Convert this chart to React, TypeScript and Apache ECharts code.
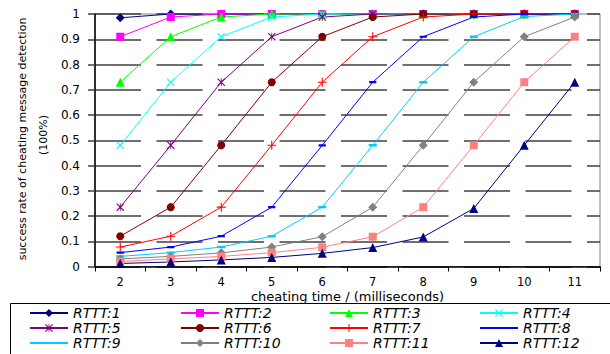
import React, { useEffect, useRef } from "react";
import * as echarts from "echarts";

const categories = ["2", "3", "4", "5", "6", "7", "8", "9", "10", "11"];
const seriesNames = [
  "RTTT:1", "RTTT:2", "RTTT:3", "RTTT:4",
  "RTTT:5", "RTTT:6", "RTTT:7", "RTTT:8",
  "RTTT:9", "RTTT:10", "RTTT:11", "RTTT:12",
];
const xAxisTitle = "cheating time / (milliseconds)";
const yAxisTitle = "success rate of cheating message detection";
const yAxisUnit = "(100%)";
const rttt1 = [0.985, 1, 1, 1, 1, 1, 1, 1, 1, 1];
const rttt2 = [0.91, 0.988, 1, 1, 1, 1, 1, 1, 1, 1];
const rttt3 = [0.73, 0.91, 0.988, 1, 1, 1, 1, 1, 1, 1];
const rttt4 = [0.48, 0.73, 0.91, 0.988, 1, 1, 1, 1, 1, 1];
const rttt5 = [0.235, 0.48, 0.73, 0.91, 0.988, 1, 1, 1, 1, 1];
const rttt6 = [0.12, 0.235, 0.48, 0.73, 0.91, 0.988, 1, 1, 1, 1];
const rttt7 = [0.077, 0.12, 0.235, 0.48, 0.73, 0.91, 0.988, 1, 1, 1];
const rttt8 = [0.055, 0.077, 0.12, 0.235, 0.48, 0.73, 0.91, 0.988, 1, 1];
const rttt9 = [0.04, 0.055, 0.077, 0.12, 0.235, 0.48, 0.73, 0.91, 0.99, 1];
const rttt10 = [0.03, 0.04, 0.054, 0.077, 0.118, 0.235, 0.48, 0.73, 0.91, 0.988];
const rttt11 = [0.02, 0.03, 0.04, 0.055, 0.076, 0.118, 0.235, 0.48, 0.73, 0.91];
const rttt12 = [0.012, 0.018, 0.026, 0.036, 0.052, 0.075, 0.117, 0.23, 0.48, 0.73];
const allData = [rttt1, rttt2, rttt3, rttt4, rttt5, rttt6, rttt7, rttt8, rttt9, rttt10, rttt11, rttt12];

const colors = [
  "#000080", "#FF00FF", "#00FF00", "#00FFFF",
  "#800080", "#800000", "#FF0000", "#0000FF",
  "#00CCFF", "#808080", "#FF8080", "#000080",
];
const CROSS = "path://M0,1L1,0L10,9L9,10Z M9,0L10,1L1,10L0,9Z";
const ASTER = "path://M0,1L1,0L10,9L9,10Z M9,0L10,1L1,10L0,9Z M4.5,0h1v10h-1Z";
const PLUS = "path://M4.4,0h1.2v10h-1.2Z M0,4.4h10v1.2h-10Z";
const DASH = "path://M0,0L0,0L0,0Z M10,10L10,10L10,10Z M1,3.8h8v2.4h-8Z";
const symbols = [
  "diamond", "rect", "triangle", CROSS,
  ASTER, "circle", PLUS, DASH,
  DASH, "diamond", "rect", "triangle",
];
const symbolSizes = [9, 8, 9, 8, 8, 8, 9, 9, 10, 9, 8, 9];

export default function App() {
  const ref = useRef<HTMLDivElement>(null);
  useEffect(() => {
    if (!ref.current) return;
    const chart = echarts.init(ref.current, null, { renderer: "svg" });
    const font = "DejaVu Sans";
    const legendLefts = [29, 180, 329, 479];
    chart.setOption({
      animation: false,
      backgroundColor: "#ffffff",
      grid: {
        left: 95, right: 10, top: 14, bottom: 87.5,
        show: true, borderColor: "#808080", borderWidth: 1,
      },
      xAxis: {
        type: "category",
        data: categories,
        boundaryGap: true,
        axisLine: { lineStyle: { color: "#000", width: 1.5 } },
        axisTick: { show: true, length: 5, lineStyle: { color: "#000" } },
        axisLabel: { margin: 9, fontFamily: font, fontSize: 11.5, lineHeight: 12, color: "#000" },
        splitLine: { show: false },
      },
      yAxis: {
        type: "value",
        min: 0, max: 1, interval: 0.1,
        axisLine: { show: true, lineStyle: { color: "#000", width: 1.5 } },
        axisTick: { show: true, length: 7, lineStyle: { color: "#404040", width: 1.5 } },
        axisLabel: {
          margin: 15, fontFamily: font, fontSize: 12, color: "#000",
          formatter: (v: number) => String(+v.toFixed(1)),
        },
        splitLine: {
          show: true,
          lineStyle: { color: "#404040", width: 1.5, type: [46, 15.5] },
        },
      },
      legend: [0, 1, 2, 3].map((c) => ({
        orient: "vertical",
        left: legendLefts[c],
        top: 305.5,
        height: 60,
        padding: 0,
        data: [seriesNames[c], seriesNames[c + 4], seriesNames[c + 8]],
        itemWidth: 38,
        itemHeight: 10,
        itemGap: 0,
        textStyle: {
          fontFamily: font, fontStyle: "italic", fontSize: 14, lineHeight: 15, color: "#000",
        },
      })),
      graphic: [
        {
          type: "rect",
          shape: { x: 10.5, y: 303.5, width: 620, height: 60 },
          style: { fill: "none", stroke: "#000", lineWidth: 1 },
          silent: true,
        },
        {
          type: "text",
          x: 347.5, y: 296,
          style: {
            text: xAxisTitle,
            fontFamily: font, fontSize: 13, lineHeight: 13, fill: "#000",
            textAlign: "center", textVerticalAlign: "middle",
          },
        },
        {
          type: "text",
          x: 22.5, y: 139, rotation: Math.PI / 2,
          style: {
            text: yAxisTitle,
            fontFamily: font, fontSize: 11, fill: "#000",
            textAlign: "center", textVerticalAlign: "middle",
          },
        },
        {
          type: "text",
          x: 43, y: 135, rotation: Math.PI / 2,
          style: {
            text: yAxisUnit,
            fontFamily: font, fontSize: 11, fill: "#000",
            textAlign: "center", textVerticalAlign: "middle",
          },
        },
      ],
      series: allData.map((d, i) => ({
        name: seriesNames[i],
        type: "line",
        data: d,
        symbol: symbols[i],
        symbolSize: symbolSizes[i],
        showAllSymbol: true,
        lineStyle: { color: colors[i], width: 1 },
        itemStyle: { color: colors[i] },
        emphasis: { disabled: true },
      })),
    });
    return () => chart.dispose();
  }, []);
  return (
    <div
      ref={ref}
      style={{ position: "fixed", left: 0, top: 0, width: 610, height: 354 }}
    />
  );
}
